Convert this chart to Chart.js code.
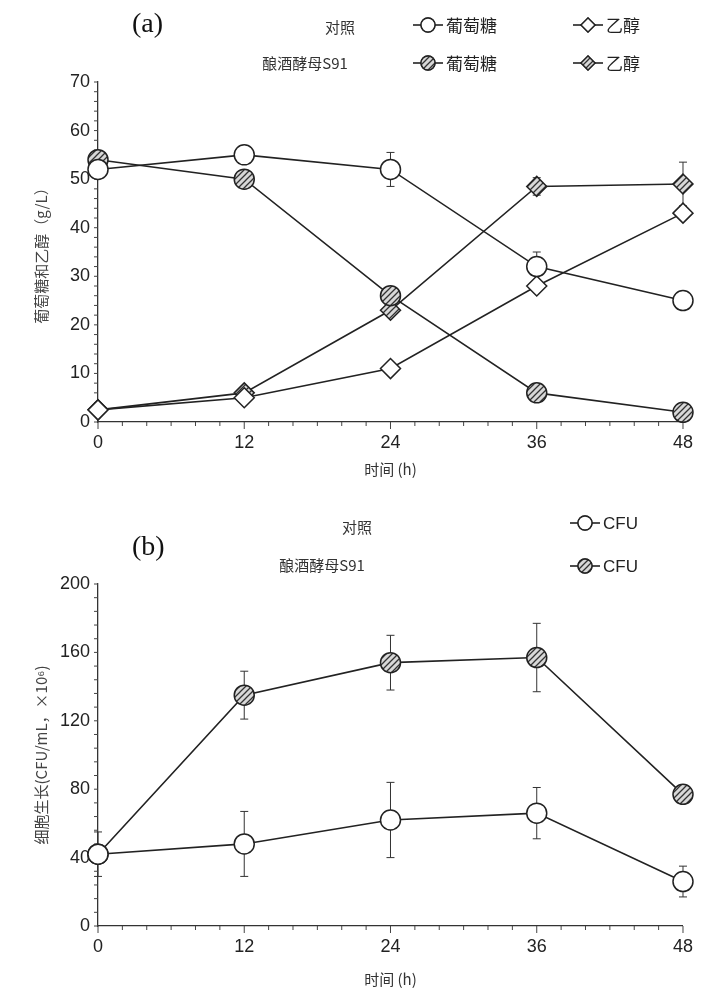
<!DOCTYPE html>
<html>
<head>
<meta charset="utf-8">
<script src="https://cdn.jsdelivr.net/npm/chart.js@4/dist/chart.umd.min.js"></script>
<style>
  body { margin: 0; background: #fff; }
  .box { position: absolute; left: 0; width: 703px; }
</style>
</head>
<body>
<div class="box" style="top:0;height:490px"><canvas id="chartA"></canvas></div>
<div class="box" style="top:500px;height:500px"><canvas id="chartB"></canvas></div>
<script>
// Données
const hours = [0, 12, 24, 36, 48];
const ctrlGlucose = [52, 55, 52, 32, 25];
const ctrlGlucoseErr = [0, 0, 3.5, 3, 0];
const ctrlEthanol = [2.5, 5, 11, 28, 43];
const ctrlEthanolErr = [0, 0, 0, 0, 0];
const s91Glucose = [54, 50, 26, 6, 2];
const s91GlucoseErr = [0, 0, 0, 0, 0];
const s91Ethanol = [2.5, 6, 23, 48.5, 49];
const s91EthanolErr = [0, 0, 0, 1.8, 4.5];
const ctrlCfu = [42, 48, 62, 66, 26];
const ctrlCfuErr = [13, 19, 22, 15, 9];
const s91Cfu = [42, 135, 154, 157, 77];
const s91CfuErr = [0, 14, 16, 20, 0];
const xTicks = [0, 12, 24, 36, 48];

const FONT = '"Liberation Sans Narrow", "Liberation Sans", sans-serif';
const CJK = '"Noto Sans CJK SC", sans-serif';

// Motif hachuré pour les marqueurs S91
function hatch() {
    const c = document.createElement('canvas');
    c.width = 6; c.height = 6;
    const g = c.getContext('2d');
    g.fillStyle = '#d8d8d8';
    g.fillRect(0, 0, 6, 6);
    g.strokeStyle = '#333';
    g.lineWidth = 1.3;
    g.beginPath();
    g.moveTo(-1, 1); g.lineTo(1, -1);
    g.moveTo(0, 6); g.lineTo(6, 0);
    g.moveTo(5, 7); g.lineTo(7, 5);
    g.stroke();
    return g.createPattern(c, 'repeat');
}
const HATCH = hatch();

function ds(data, err, style, fill, r) {
    return {
        data: hours.map((h, i) => ({ x: h, y: data[i] })),
        err: err,
        borderColor: '#222', borderWidth: 1.6,
        pointStyle: style, pointRadius: r, pointBorderWidth: 1.5,
        pointBorderColor: '#222', pointBackgroundColor: fill,
        tension: 0, clip: false
    };
}

// Barres d'erreur + petites graduations
const extras = {
    id: 'extras',
    beforeDatasetsDraw(chart, args, opts) {
        const { ctx, scales: { x, y } } = chart;
        ctx.save();
        ctx.strokeStyle = '#333'; ctx.lineWidth = 1;
        chart.data.datasets.forEach(d => {
            d.data.forEach((p, i) => {
                const e = d.err[i];
                if (!e) return;
                const px = x.getPixelForValue(p.x);
                const t = y.getPixelForValue(p.y + e), b = y.getPixelForValue(p.y - e);
                ctx.beginPath();
                ctx.moveTo(px, t); ctx.lineTo(px, b);
                ctx.moveTo(px - 4, t); ctx.lineTo(px + 4, t);
                ctx.moveTo(px - 4, b); ctx.lineTo(px + 4, b);
                ctx.stroke();
            });
        });
        ctx.strokeStyle = '#444';
        for (let v = 0; v <= 48; v += 2) {
            const px = x.getPixelForValue(v), by = y.bottom;
            ctx.beginPath(); ctx.moveTo(px, by); ctx.lineTo(px, by + (v % 12 ? 4 : 7)); ctx.stroke();
        }
        for (let v = 0; v <= y.max; v += opts.minor) {
            const py = y.getPixelForValue(v);
            ctx.beginPath(); ctx.moveTo(x.left, py); ctx.lineTo(x.left - 4, py); ctx.stroke();
        }
        ctx.restore();
    },
    afterDraw(chart, args, opts) {
        const ctx = chart.ctx;
        ctx.save();
        ctx.fillStyle = '#111';
        ctx.textBaseline = 'middle';
        ctx.font = '28px "Liberation Serif", serif';
        ctx.fillText(opts.tag[0], opts.tag[1], opts.tag[2]);
        ctx.font = '15px ' + CJK;
        ctx.fillStyle = '#333';
        ctx.textAlign = 'center';
        opts.groups.forEach(g => ctx.fillText(g[0], g[1], g[2]));
        ctx.textAlign = 'left';
        opts.items.forEach(it => {
            const [label, lx, ly, style, fill] = it;
            ctx.strokeStyle = '#222'; ctx.lineWidth = 1.6;
            ctx.beginPath(); ctx.moveTo(lx, ly); ctx.lineTo(lx + 30, ly); ctx.stroke();
            ctx.fillStyle = fill; ctx.lineWidth = 1.4;
            Chart.helpers.drawPoint(ctx, { pointStyle: style, radius: 7, borderWidth: 1.4 }, lx + 15, ly);
            ctx.fill(); ctx.stroke();
            ctx.fillStyle = '#222';
            ctx.font = (/[A-Z]/.test(label) ? '17px ' + FONT : '17px ' + CJK);
            ctx.fillText(label, lx + 33, ly + 1);
        });
        ctx.restore();
    }
};

function makeChart(id, datasets, yMax, yStep, yTitle, xHeight, top, bottom, plugOpts) {
    return new Chart(document.getElementById(id), {
        type: 'line',
        data: { datasets: datasets },
        plugins: [extras],
        options: {
            responsive: true, maintainAspectRatio: false, animation: false,
            layout: { padding: { top: top, right: 20, left: 32, bottom: bottom } },
            plugins: { legend: { display: false }, tooltip: { enabled: false }, extras: plugOpts },
            scales: {
                x: {
                    type: 'linear', min: 0, max: 48,
                    afterBuildTicks: a => { a.ticks = xTicks.map(v => ({ value: v })); },
                    afterFit: a => { a.height = xHeight; },
                    grid: { display: false, drawTicks: false },
                    border: { color: '#333', width: 1.3 },
                    ticks: { color: '#222', font: { size: 18, family: FONT }, padding: 10 },
                    title: { display: true, text: '时间 (h)', color: '#333', font: { size: 15, family: CJK }, padding: 0 }
                },
                y: {
                    min: 0, max: yMax,
                    afterFit: a => { a.width = 66; },
                    grid: { display: false, drawTicks: false },
                    border: { color: '#333', width: 1.3 },
                    ticks: { stepSize: yStep, color: '#222', font: { size: 18, family: FONT }, padding: 8 },
                    title: { display: true, text: yTitle, color: '#444', font: { size: 15, family: CJK }, padding: 0 }
                }
            }
        }
    });
}

document.addEventListener('DOMContentLoaded', () => {
    makeChart('chartA', [
        ds(ctrlGlucose, ctrlGlucoseErr, 'circle', '#fff', 10),
        ds(ctrlEthanol, ctrlEthanolErr, 'rectRot', '#fff', 10),
        ds(s91Glucose, s91GlucoseErr, 'circle', HATCH, 10),
        ds(s91Ethanol, s91EthanolErr, 'rectRot', HATCH, 10)
    ], 70, 10, '葡萄糖和乙醇（g/L）', 56, 82, 12, {
        minor: 2,
        tag: ['(a)', 132, 25],
        groups: [['对照', 340, 27], ['酿酒酵母S91', 305, 63]],
        items: [['葡萄糖', 413, 25, 'circle', '#fff'], ['乙醇', 573, 25, 'rectRot', '#fff'],
                ['葡萄糖', 413, 63, 'circle', HATCH], ['乙醇', 573, 63, 'rectRot', HATCH]]
    });
    makeChart('chartB', [
        ds(ctrlCfu, ctrlCfuErr, 'circle', '#fff', 10),
        ds(s91Cfu, s91CfuErr, 'circle', HATCH, 10)
    ], 200, 40, '细胞生长(CFU/mL，×10⁶)', 62, 84, 12, {
        minor: 8,
        tag: ['(b)', 132, 48],
        groups: [['对照', 357, 27], ['酿酒酵母S91', 322, 65]],
        items: [['CFU', 570, 23, 'circle', '#fff'], ['CFU', 570, 66, 'circle', HATCH]]
    });
});
</script>
</body>
</html>
